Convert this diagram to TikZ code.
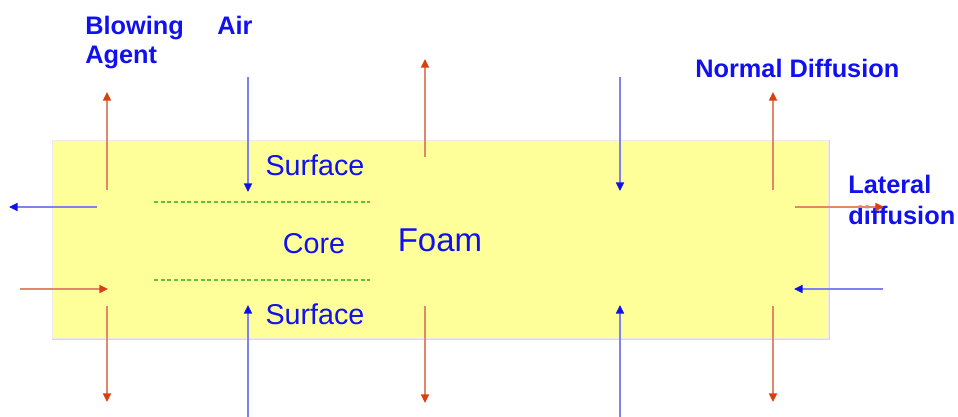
\documentclass[tikz,border=0pt]{standalone}
\usepackage{fontspec}
\setmainfont{Liberation Sans}
\usetikzlibrary{arrows.meta}
\definecolor{foamfill}{HTML}{FFFF99}
\definecolor{txtblue}{HTML}{1010F0}
\definecolor{redhead}{HTML}{D84010}
\definecolor{redshaft}{HTML}{E08868}
\definecolor{bluehead}{HTML}{1010E8}
\definecolor{blueshaft}{HTML}{8080F0}
\definecolor{dashgreen}{HTML}{60C040}
\tikzset{
  redarr/.style={draw=redshaft, line width=1.1pt, -{Triangle[length=6.5pt,width=6pt,color=redhead]}},
  bluearr/.style={draw=blueshaft, line width=1.1pt, -{Triangle[length=6.5pt,width=6pt,color=bluehead]}},
  lbl/.style={text=txtblue, font=\fontsize{19}{23}\selectfont\bfseries, inner sep=0pt, anchor=base west},
  inlbl/.style={text=txtblue, font=\fontsize{21.5}{26}\selectfont, inner sep=0pt, anchor=base},
  layer/.style={draw=dashgreen, dashed, dash pattern=on 3pt off 2pt, line width=0.8pt}
}
\begin{document}
\begin{tikzpicture}[x=0.75pt,y=-0.75pt]
\useasboundingbox (0,0) rectangle (958,417);
% foam block
\draw[draw=black!15, line width=1.5pt] (53,141) rectangle (829,339);
\node[draw=black!8, fill=foamfill, line width=0.8pt, minimum width=776*0.75pt, minimum height=198*0.75pt, inner sep=0pt, anchor=north west] (foam) at (52,140) {};
% layer boundaries
\coordinate (d1a) at (154,202); \coordinate (d1b) at (370,202);
\coordinate (d2a) at (154,280); \coordinate (d2b) at (370,280);
\draw[layer] (d1a) -- (d1b);
\draw[layer] (d2a) -- (d2b);
% texts
\node[inlbl] (surf1) at (315,176) {Surface};
\node[inlbl] (core) at (314,254) {Core};
\node[inlbl] (surf2) at (315,325) {Surface};
\node[text=txtblue, font=\fontsize{24.75}{30}\selectfont, inner sep=0pt, anchor=base] (foamlbl) at (440,252) {Foam};
\node[lbl] (blow) at (85,35) {Blowing};
\node[lbl] (agent) at (85,64) {Agent};
\node[lbl] (air) at (217,35) {Air};
\node[lbl] (normal) at (695,78) {Normal Diffusion};
\node[lbl] (lat1) at (848,194) {Lateral};
\node[lbl] (lat2) at (848,225) {diffusion};
% arrow end points
\coordinate (r1s) at (107,190); \coordinate (r1e) at (107,92);
\coordinate (r2s) at (107,306); \coordinate (r2e) at (107,402);
\coordinate (r3s) at (20,289);  \coordinate (r3e) at (108,289);
\coordinate (b1s) at (97,207);  \coordinate (b1e) at (9,207);
\coordinate (b2s) at (248,77);  \coordinate (b2e) at (248,192);
\coordinate (b3s) at (248,417); \coordinate (b3e) at (248,305);
\coordinate (r4s) at (425,157); \coordinate (r4e) at (425,59);
\coordinate (r5s) at (425,306); \coordinate (r5e) at (425,403);
\coordinate (b4s) at (620,77);  \coordinate (b4e) at (620,191);
\coordinate (b5s) at (620,417); \coordinate (b5e) at (620,305);
\coordinate (r6s) at (773,190); \coordinate (r6e) at (773,92);
\coordinate (r7s) at (773,306); \coordinate (r7e) at (773,402);
\coordinate (r8s) at (795,207); \coordinate (r8e) at (884,207);
\coordinate (b6s) at (883,289); \coordinate (b6e) at (794,289);
% arrows
\foreach \a in {r1,r2,r3,r4,r5,r6,r7,r8} \draw[redarr] (\a s) -- (\a e);
\foreach \a in {b1,b2,b3,b4,b5,b6} \draw[bluearr] (\a s) -- (\a e);
\end{tikzpicture}
\end{document}
